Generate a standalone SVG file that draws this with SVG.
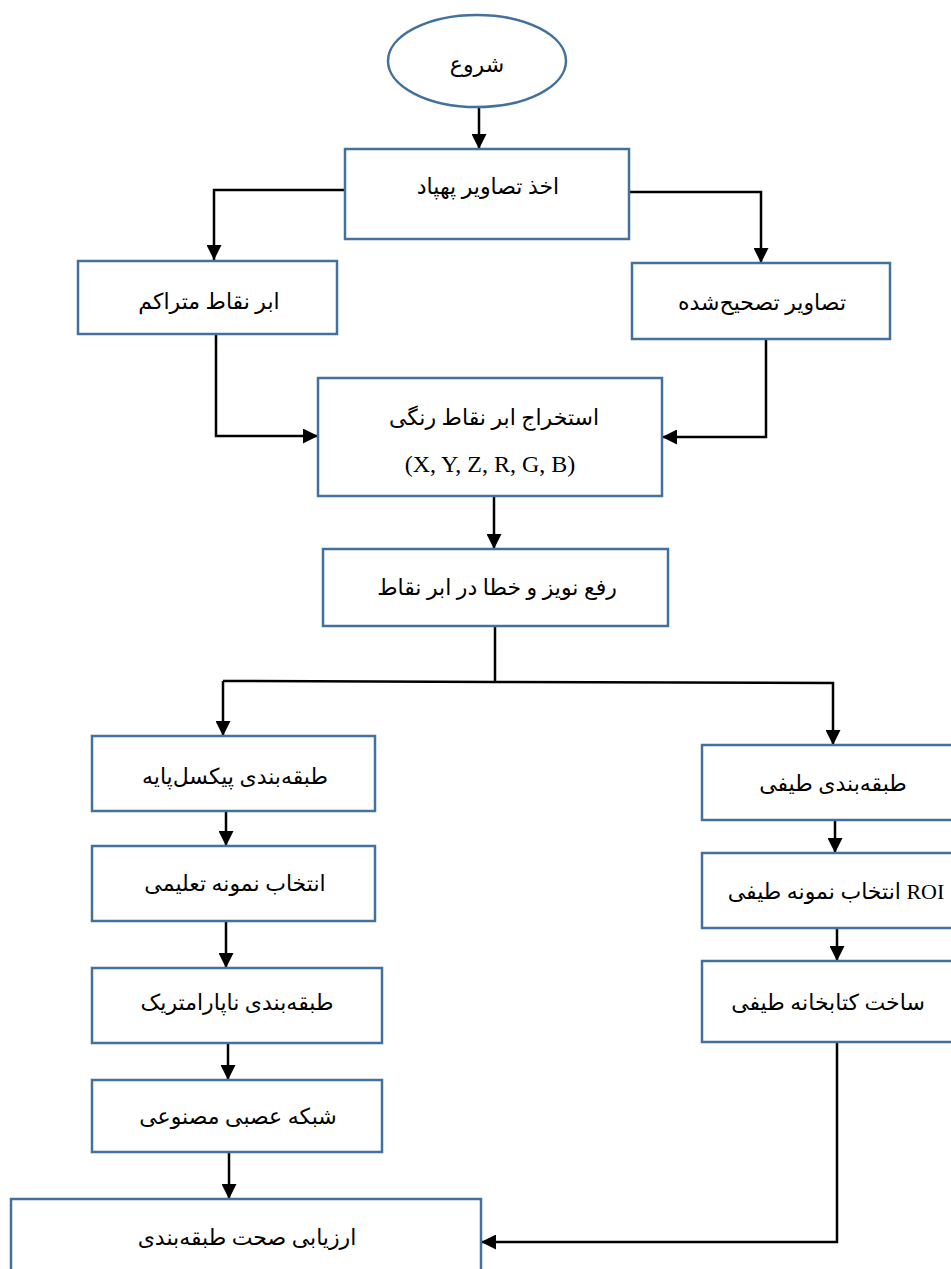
<svg xmlns="http://www.w3.org/2000/svg" width="951" height="1269" viewBox="0 0 951 1269">
<style>
.box{fill:#fff;stroke:#41719C;stroke-width:2.5}
.con{fill:none;stroke:#000;stroke-width:2.5}
.t{font-family:'Liberation Serif','DejaVu Sans',serif;font-size:22px;fill:#000;text-anchor:middle}
.rtl{direction:rtl;unicode-bidi:embed}
.lat{font-family:'Liberation Serif',serif;font-size:24px;fill:#000;text-anchor:middle}
</style>
<defs>
<marker id="ah" viewBox="0 0 15 15" refX="15" refY="7.5" markerWidth="15" markerHeight="15" markerUnits="userSpaceOnUse" orient="auto">
<path d="M0,0 L15,7.5 L0,15 z" fill="#000"/>
</marker>
</defs>
<g id="connectors">
<line class="con" x1="479" y1="107" x2="479" y2="149" marker-end="url(#ah)"/>
<polyline class="con" points="345,190 214,190 214,260" marker-end="url(#ah)"/>
<polyline class="con" points="629,192 761,192 761,263" marker-end="url(#ah)"/>
<polyline class="con" points="216,334 216,436 318,436" marker-end="url(#ah)"/>
<polyline class="con" points="766,339 766,437 662,437" marker-end="url(#ah)"/>
<line class="con" x1="494" y1="496" x2="494" y2="549" marker-end="url(#ah)"/>
<line class="con" x1="495" y1="626" x2="495" y2="682"/>
<polyline class="con" points="223,681 495,682 833,683 833,745" marker-end="url(#ah)"/>
<line class="con" x1="223" y1="681" x2="223" y2="736" marker-end="url(#ah)"/>
<line class="con" x1="226" y1="811" x2="226" y2="846" marker-end="url(#ah)"/>
<line class="con" x1="226" y1="921" x2="226" y2="968" marker-end="url(#ah)"/>
<line class="con" x1="228" y1="1043" x2="228" y2="1080" marker-end="url(#ah)"/>
<line class="con" x1="229" y1="1152" x2="229" y2="1199" marker-end="url(#ah)"/>
<line class="con" x1="835" y1="820" x2="835" y2="853" marker-end="url(#ah)"/>
<line class="con" x1="837" y1="928" x2="837" y2="961" marker-end="url(#ah)"/>
<polyline class="con" points="837,1042 837,1242 481,1242" marker-end="url(#ah)"/>
</g>
<g id="start">
<ellipse class="box" cx="477" cy="61" rx="89" ry="46"/>
<text class="t rtl" x="477" y="72">شروع</text>
</g>
<g id="nodeA">
<rect class="box" x="345" y="149" width="284" height="90"/>
<text class="t rtl" x="488" y="194">اخذ تصاویر پهپاد</text>
</g>
<g id="nodeB">
<rect class="box" x="78" y="261" width="259" height="73"/>
<text class="t rtl" x="209" y="309">ابر نقاط متراکم</text>
</g>
<g id="nodeC">
<rect class="box" x="632" y="263" width="258" height="76"/>
<text class="t rtl" x="762" y="310">تصاویر تصحیح&#x200C;شده</text>
</g>
<g id="nodeD">
<rect class="box" x="318" y="378" width="344" height="118"/>
<text class="t rtl" x="494" y="425">استخراج ابر نقاط رنگی</text>
<text class="lat" x="490" y="472">(X, Y, Z, R, G, B)</text>
</g>
<g id="nodeE">
<rect class="box" x="323" y="549" width="345" height="77"/>
<text class="t rtl" x="497" y="595">رفع نویز و خطا در ابر نقاط</text>
</g>
<g id="nodeF">
<rect class="box" x="92" y="736" width="283" height="75"/>
<text class="t rtl" x="235" y="784">طبقه&#x200C;بندی پیکسل&#x200C;پایه</text>
</g>
<g id="nodeG">
<rect class="box" x="92" y="846" width="283" height="75"/>
<text class="t rtl" x="235" y="891">انتخاب نمونه تعلیمی</text>
</g>
<g id="nodeH">
<rect class="box" x="92" y="968" width="290" height="75"/>
<text class="t rtl" x="237" y="1010">طبقه&#x200C;بندی ناپارامتریک</text>
</g>
<g id="nodeI">
<rect class="box" x="92" y="1080" width="290" height="72"/>
<text class="t rtl" x="238" y="1124">شبکه عصبی مصنوعی</text>
</g>
<g id="nodeK">
<rect class="box" x="11" y="1199" width="470" height="90"/>
<text class="t rtl" x="247" y="1245">ارزیابی صحت طبقه&#x200C;بندی</text>
</g>
<g id="nodeJ">
<rect class="box" x="702" y="745" width="270" height="75"/>
<text class="t rtl" x="833" y="791">طبقه&#x200C;بندی طیفی</text>
</g>
<g id="nodeL">
<rect class="box" x="702" y="853" width="270" height="75"/>
<text class="t rtl" x="836" y="899">ROI انتخاب نمونه طیفی</text>
</g>
<g id="nodeM">
<rect class="box" x="702" y="961" width="270" height="81"/>
<text class="t rtl" x="828" y="1010">ساخت کتابخانه طیفی</text>
</g>
</svg>
